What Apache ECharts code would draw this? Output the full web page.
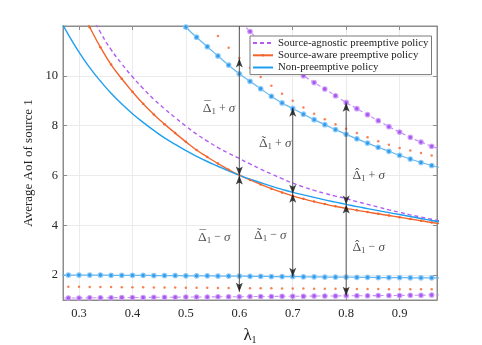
<!DOCTYPE html>
<html>
<head>
<meta charset="utf-8">
<script src="https://cdn.jsdelivr.net/npm/echarts@6/dist/echarts.min.js"></script>
<style>
  html, body { margin: 0; padding: 0; background: #fff; }
  #chart { width: 482px; height: 345px; }
</style>
</head>
<body>
<div id="chart"></div>
<script>
// λ1 取值 (步长 0.02)
const lam = [0.26, 0.28, 0.30, 0.32, 0.34, 0.36, 0.38, 0.40, 0.42, 0.44, 0.46, 0.48, 0.50,
  0.52, 0.54, 0.56, 0.58, 0.60, 0.62, 0.64, 0.66, 0.68, 0.70, 0.72, 0.74, 0.76, 0.78, 0.80,
  0.82, 0.84, 0.86, 0.88, 0.90, 0.92, 0.94, 0.96, 0.98];

// 平均 AoI
const nonPreMean = [12.46, 11.65, 10.95, 10.33, 9.79, 9.30, 8.87, 8.48, 8.13, 7.81, 7.51, 7.25, 7.00,
  6.77, 6.56, 6.37, 6.18, 6.01, 5.85, 5.71, 5.57, 5.44, 5.32, 5.22, 5.12, 5.02, 4.93, 4.84,
  4.75, 4.67, 4.59, 4.51, 4.43, 4.35, 4.27, 4.19, 4.12];
const awareMean = [14.8, 13.7, 12.75, 11.95, 11.15, 10.45, 9.88, 9.36, 8.88, 8.45, 8.06, 7.70, 7.35,
  7.02, 6.74, 6.48, 6.23, 6.01, 5.82, 5.64, 5.47, 5.32, 5.18, 5.06, 4.95, 4.85, 4.76, 4.68,
  4.60, 4.53, 4.46, 4.39, 4.32, 4.25, 4.18, 4.11, 4.05];
const agnosticMean = [15.4, 14.3, 13.35, 12.55, 11.75, 11.05, 10.48, 9.96, 9.49, 9.06, 8.68, 8.32, 7.98,
  7.66, 7.38, 7.12, 6.89, 6.68, 6.46, 6.25, 6.06, 5.87, 5.69, 5.54, 5.40, 5.28, 5.17, 5.07,
  4.95, 4.84, 4.73, 4.62, 4.52, 4.42, 4.33, 4.24, 4.16];

// 均值 + σ
const nonPreUpper = [null, null, null, null, null, null, null, null, null, null, 13.1, 12.5, 11.96,
  11.55, 11.17, 10.8, 10.43, 10.08, 9.78, 9.48, 9.18, 8.91, 8.69, 8.46, 8.24, 8.04, 7.84, 7.65,
  7.47, 7.30, 7.13, 6.97, 6.81, 6.66, 6.52, 6.40, 6.30];
const awareUpper = [null, null, null, null, null, null, null, null, null, null, null, null, null,
  null, 12.1, 11.6, 11.13, 10.72, 10.32, 9.95, 9.6, 9.28, 9.0, 8.73, 8.48, 8.26, 8.06, 7.88,
  7.7, 7.53, 7.37, 7.23, 7.1, 7.0, 6.9, 6.8, 6.72];
const agnosticUpper = [null, null, null, null, null, null, null, null, null, null, null, null, null,
  null, null, null, 12.8, 12.25, 11.78, 11.35, 10.95, 10.6, 10.28, 10.0, 9.73, 9.47, 9.2, 8.93,
  8.68, 8.44, 8.2, 7.96, 7.74, 7.53, 7.34, 7.17, 7.02];

// 均值 - σ
const nonPreLower = [2.00, 2.00, 2.00, 2.00, 2.00, 1.99, 1.99, 1.99, 1.99, 1.98, 1.98, 1.98, 1.97,
  1.97, 1.97, 1.96, 1.96, 1.96, 1.95, 1.95, 1.94, 1.94, 1.94, 1.93, 1.93, 1.92, 1.92, 1.92,
  1.91, 1.91, 1.90, 1.90, 1.90, 1.89, 1.89, 1.89, 1.88];
const awareLower = [1.53, 1.53, 1.53, 1.52, 1.52, 1.52, 1.51, 1.51, 1.51, 1.50, 1.50, 1.50, 1.49,
  1.49, 1.49, 1.48, 1.48, 1.48, 1.47, 1.47, 1.47, 1.46, 1.46, 1.46, 1.45, 1.45, 1.45, 1.44,
  1.44, 1.44, 1.44, 1.43, 1.43, 1.43, 1.43, 1.43, 1.42];
const agnosticLower = [1.08, 1.08, 1.08, 1.09, 1.09, 1.09, 1.10, 1.10, 1.10, 1.11, 1.11, 1.11, 1.12,
  1.12, 1.12, 1.13, 1.13, 1.13, 1.14, 1.14, 1.14, 1.15, 1.15, 1.15, 1.16, 1.16, 1.16, 1.17,
  1.17, 1.17, 1.18, 1.18, 1.18, 1.19, 1.19, 1.20, 1.20];

// 标注箭头
const arrowLam = [0.6, 0.7, 0.8];
const arrowLineTop = [12, 8.72, 8.92];
const arrowTop = [10.7, 8.72, 8.92];
const arrowMid = [6.0, 5.27, 4.83];
const arrowBottom = [1.33, 1.93, 1.17];

// 标注文字 (Δ 上方的符号: 横线 / 波浪 / 尖帽)
const noteAccents = ['¯', '˜', 'ˆ'];
const plusLam = [0.562, 0.667, 0.842];
const plusVal = [8.68, 7.28, 6.0];
const minusLam = [0.553, 0.658, 0.842];
const minusVal = [3.52, 3.6, 3.12];

const legendNames = ['Source-agnostic preemptive policy', 'Source-aware preemptive policy', 'Non-preemptive policy'];

const SERIF = 'Liberation Serif, DejaVu Serif, serif';
const BLUE = '#1f9ff0';
const ORANGE = '#f2642c';
const PURPLE = '#b25cf5';

const pairs = arr => lam.map((x, i) => [x, arr[i]]);

const chart = echarts.init(document.getElementById('chart'));

function boundSeries(data, lineColor, dotColor, halo, dashed) {
  return {
    type: 'line',
    data: pairs(data),
    smooth: true,
    symbol: 'circle',
    symbolSize: 4.5,
    showAllSymbol: true,
    lineStyle: { color: lineColor, width: 1.2, type: dashed ? [4, 3] : 'solid' },
    itemStyle: { color: dotColor, borderColor: halo, borderWidth: 1.2 },
    z: 2
  };
}

function dotSeries(data) {
  return {
    type: 'scatter',
    data: pairs(data),
    symbol: 'circle',
    symbolSize: 2.5,
    itemStyle: { color: ORANGE },
    z: 2
  };
}

const arrowLines = arrowLam.map((x, i) => ({
  type: 'line',
  data: [[x, arrowBottom[i]], [x, arrowLineTop[i]]],
  symbol: 'none',
  lineStyle: { color: '#555', width: 1 },
  z: 5
}));

const upHead = 'path://M5,0 L10,13 L5,10 L0,13 Z';
const downHead = 'path://M0,0 L5,3 L10,0 L5,13 Z';

function noteSeries(xs, ys, sign) {
  return {
    type: 'scatter',
    data: xs.map((x, i) => [x, ys[i]]),
    symbolSize: 1,
    itemStyle: { color: 'transparent' },
    label: {
      show: true,
      position: 'inside',
      formatter: '{d|Δ}{s|1}{t| ' + sign + ' }{i|σ}',
      rich: {
        d: { fontFamily: SERIF, fontSize: 13.5, color: '#222', lineHeight: 15 },
        s: { fontFamily: SERIF, fontSize: 9, color: '#222', lineHeight: 6, verticalAlign: 'bottom' },
        t: { fontFamily: SERIF, fontSize: 12, color: '#222', lineHeight: 15 },
        i: { fontFamily: SERIF, fontSize: 13, fontStyle: 'italic', color: '#222', lineHeight: 15 }
      }
    },
    z: 6
  };
}

function accentSeries(xs, ys) {
  return {
    type: 'scatter',
    data: xs.map((x, i) => [x, ys[i]]),
    symbolSize: 1,
    itemStyle: { color: 'transparent' },
    label: {
      show: true,
      position: 'inside',
      offset: [-11.5, -2],
      formatter: p => noteAccents[p.dataIndex],
      fontFamily: SERIF,
      fontSize: 13,
      color: '#222'
    },
    z: 6
  };
}

const option = {
  animation: false,
  backgroundColor: '#fff',
  grid: { left: 63, right: 45, top: 26, bottom: 45, show: true, borderColor: '#8c8c8c', borderWidth: 1, outerBoundsMode: 'none' },
  legend: {
    data: [
      { name: legendNames[0], itemStyle: { opacity: 0 } },
      { name: legendNames[1] },
      { name: legendNames[2], itemStyle: { opacity: 0 } }
    ],
    orient: 'vertical',
    left: 250,
    top: 36,
    padding: [1, 3, 1, 2],
    itemGap: 0,
    itemWidth: 20,
    itemHeight: 3,
    backgroundColor: '#fff',
    borderColor: '#7a7a7a',
    borderWidth: 1,
    borderRadius: 0,
    textStyle: { fontFamily: SERIF, fontSize: 10.8, color: '#222', lineHeight: 12.2 }
  },
  xAxis: [
    {
      type: 'value',
      min: 0.27,
      max: 0.97,
      name: '{l|λ}{s|1}',
      nameLocation: 'middle',
      nameGap: 27,
      nameTextStyle: {
        rich: {
          l: { fontFamily: SERIF, fontSize: 17, color: '#222', lineHeight: 18 },
          s: { fontFamily: SERIF, fontSize: 10, color: '#222', lineHeight: 8, verticalAlign: 'bottom' }
        }
      },
      axisLine: { show: true, lineStyle: { color: '#8c8c8c' } },
      axisTick: { show: true, inside: true, length: 4, lineStyle: { color: '#8c8c8c' } },
      axisLabel: {
        margin: 7,
        fontFamily: SERIF,
        fontSize: 12.5,
        color: '#262626',
        formatter: v => Math.abs(v * 10 - Math.round(v * 10)) < 1e-6 ? v.toFixed(1) : ''
      },
      splitLine: { show: true, lineStyle: { color: '#ebebeb' } }
    },
    {
      type: 'value',
      position: 'top',
      min: 0.27,
      max: 0.97,
      axisLine: { show: true, lineStyle: { color: '#8c8c8c' } },
      axisTick: { show: true, inside: true, length: 4, lineStyle: { color: '#8c8c8c' } },
      axisLabel: { show: false },
      splitLine: { show: false }
    }
  ],
  yAxis: [
    {
      type: 'value',
      min: 1,
      max: 12,
      splitNumber: 5,
      name: 'Average AoI of source 1',
      nameLocation: 'middle',
      nameGap: 24,
      nameTextStyle: { fontFamily: SERIF, fontSize: 13, color: '#262626' },
      axisLine: { show: true, lineStyle: { color: '#8c8c8c' } },
      axisTick: { show: true, inside: true, length: 4, lineStyle: { color: '#8c8c8c' } },
      axisLabel: {
        margin: 5,
        fontFamily: SERIF,
        fontSize: 12.5,
        color: '#262626',
        formatter: v => (v === 1 || v === 12) ? '' : String(v)
      },
      splitLine: { show: true, lineStyle: { color: '#ebebeb' } }
    },
    {
      type: 'value',
      position: 'right',
      min: 1,
      max: 12,
      splitNumber: 5,
      axisLine: { show: true, lineStyle: { color: '#8c8c8c' } },
      axisTick: { show: true, inside: true, length: 4, lineStyle: { color: '#8c8c8c' } },
      axisLabel: { show: false },
      splitLine: { show: false }
    }
  ],
  series: [
    {
      name: legendNames[0],
      type: 'line',
      data: pairs(agnosticMean),
      smooth: true,
      symbol: 'none',
      lineStyle: { color: PURPLE, width: 1.4, type: [4, 3] },
      itemStyle: { color: PURPLE },
      z: 3
    },
    {
      name: legendNames[1],
      type: 'line',
      data: pairs(awareMean),
      smooth: true,
      symbol: 'circle',
      symbolSize: 2.5,
      showAllSymbol: true,
      lineStyle: { color: ORANGE, width: 1.4 },
      itemStyle: { color: ORANGE },
      z: 3
    },
    {
      name: legendNames[2],
      type: 'line',
      data: pairs(nonPreMean),
      smooth: true,
      symbol: 'none',
      lineStyle: { color: BLUE, width: 1.4 },
      itemStyle: { color: BLUE },
      z: 3
    },
    boundSeries(nonPreUpper, '#62b8f3', '#2f9cea', 'rgba(140,200,248,0.9)', false),
    boundSeries(nonPreLower, '#62b8f3', '#2f9cea', 'rgba(140,200,248,0.9)', false),
    boundSeries(agnosticUpper, '#c590f7', '#a955ef', 'rgba(205,160,250,0.9)', true),
    boundSeries(agnosticLower, '#c590f7', '#a955ef', 'rgba(205,160,250,0.9)', true),
    dotSeries(awareUpper),
    dotSeries(awareLower),
    ...arrowLines,
    {
      type: 'scatter',
      data: [
        ...arrowLam.map((x, i) => [x, arrowTop[i]]),
        ...arrowLam.map((x, i) => [x, arrowMid[i]])
      ],
      symbol: upHead,
      symbolSize: [7, 9],
      symbolOffset: [0, 4.5],
      itemStyle: { color: '#111' },
      z: 7
    },
    {
      type: 'scatter',
      data: [
        ...arrowLam.map((x, i) => [x, arrowMid[i]]),
        ...arrowLam.map((x, i) => [x, arrowBottom[i]])
      ],
      symbol: downHead,
      symbolSize: [7, 9],
      symbolOffset: [0, -4.5],
      itemStyle: { color: '#111' },
      z: 7
    },
    noteSeries(plusLam, plusVal, '+'),
    noteSeries(minusLam, minusVal, '−'),
    accentSeries(plusLam, plusVal),
    accentSeries(minusLam, minusVal)
  ]
};

chart.setOption(option);
</script>
</body>
</html>
